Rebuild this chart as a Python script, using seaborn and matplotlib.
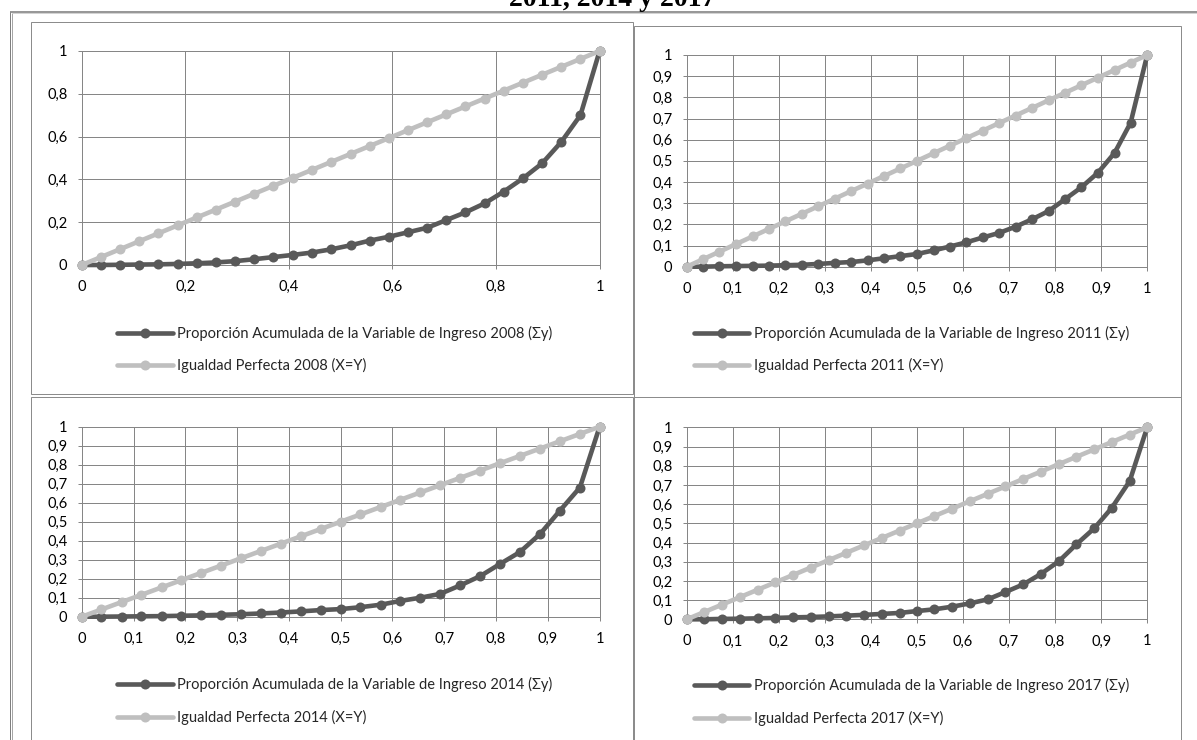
import matplotlib
matplotlib.use("Agg")
import matplotlib.pyplot as plt
from matplotlib.lines import Line2D
from matplotlib.patches import Rectangle
from matplotlib.ticker import FuncFormatter, MultipleLocator
import seaborn as sns

# ---- data: cumulative population share (x) and cumulative income share (y) ----
x_2008 = [0.000, 0.037, 0.074, 0.111, 0.148, 0.185, 0.222, 0.259, 0.296, 0.333,
          0.370, 0.407, 0.444, 0.481, 0.519, 0.556, 0.593, 0.630, 0.667, 0.704,
          0.741, 0.778, 0.815, 0.852, 0.889, 0.926, 0.963, 1.000]
y_2008 = [0.000, 0.000, 0.001, 0.002, 0.003, 0.005, 0.008, 0.012, 0.018, 0.027,
          0.037, 0.047, 0.058, 0.073, 0.092, 0.114, 0.132, 0.153, 0.174, 0.210,
          0.246, 0.288, 0.343, 0.405, 0.475, 0.575, 0.700, 1.000]

x_2011 = [0.000, 0.036, 0.071, 0.107, 0.143, 0.179, 0.214, 0.250, 0.286, 0.321,
          0.357, 0.393, 0.429, 0.464, 0.500, 0.536, 0.571, 0.607, 0.643, 0.679,
          0.714, 0.750, 0.786, 0.821, 0.857, 0.893, 0.929, 0.964, 1.000]
y_2011 = [0.000, 0.000, 0.002, 0.003, 0.004, 0.005, 0.007, 0.009, 0.013, 0.018,
          0.022, 0.030, 0.040, 0.050, 0.060, 0.077, 0.095, 0.115, 0.138, 0.160,
          0.189, 0.224, 0.263, 0.318, 0.375, 0.444, 0.537, 0.680, 1.000]

x_2014 = [0.000, 0.038, 0.077, 0.115, 0.154, 0.192, 0.231, 0.269, 0.308, 0.346,
          0.385, 0.423, 0.462, 0.500, 0.538, 0.577, 0.615, 0.654, 0.692, 0.731,
          0.769, 0.808, 0.846, 0.885, 0.923, 0.962, 1.000]
y_2014 = [0.000, 0.000, 0.001, 0.002, 0.003, 0.005, 0.007, 0.010, 0.013, 0.017,
          0.022, 0.028, 0.035, 0.040, 0.050, 0.063, 0.083, 0.100, 0.120, 0.165,
          0.213, 0.278, 0.340, 0.435, 0.557, 0.680, 1.000]

x_2017 = [0.000, 0.038, 0.077, 0.115, 0.154, 0.192, 0.231, 0.269, 0.308, 0.346,
          0.385, 0.423, 0.462, 0.500, 0.538, 0.577, 0.615, 0.654, 0.692, 0.731,
          0.769, 0.808, 0.846, 0.885, 0.923, 0.962, 1.000]
y_2017 = [0.000, 0.000, 0.002, 0.003, 0.005, 0.007, 0.010, 0.012, 0.015, 0.019,
          0.023, 0.028, 0.033, 0.043, 0.052, 0.066, 0.083, 0.104, 0.142, 0.182,
          0.236, 0.302, 0.390, 0.474, 0.580, 0.720, 1.000]

years = ["2008", "2011", "2014", "2017"]
tick_steps = {"2008": 0.2, "2011": 0.1, "2014": 0.1, "2017": 0.1}
label_curve = "Proporción Acumulada de la Variable de Ingreso {} (Σy)"
label_equal = "Igualdad Perfecta {} (X=Y)"
title_text = "2011, 2014 y 2017"

series = {
    "2008": (x_2008, y_2008),
    "2011": (x_2011, y_2011),
    "2014": (x_2014, y_2014),
    "2017": (x_2017, y_2017),
}

# ---- styling ----
sns.set_theme(style="white")
plt.rcParams["font.family"] = ["Lato", "DejaVu Sans"]

W, H = 1197, 740
DARK = "#595959"
LIGHT = "#bfbfbf"
GRID = "#868686"
FRAME = "#8c8c8c"
PT = 0.72  # points per pixel at dpi 100
LINE_PX = 4.6
MARK_PX = 10.0

fig = plt.figure(figsize=(W / 100, H / 100), dpi=100)


def fx(x):
    return x / W


def fy(y):
    return 1 - y / H


def hline(y, x0, x1, color=FRAME, lw=1.0):
    fig.add_artist(Line2D([fx(x0), fx(x1)], [fy(y), fy(y)], transform=fig.transFigure,
                          color=color, lw=lw * PT, solid_capstyle="butt"))


def vline(x, y0, y1, color=FRAME, lw=1.0):
    fig.add_artist(Line2D([fx(x), fx(x)], [fy(y0), fy(y1)], transform=fig.transFigure,
                          color=color, lw=lw * PT, solid_capstyle="butt"))


def box(x0, y0, x1, y1):
    fig.add_artist(Rectangle((fx(x0), fy(y1)), fx(x1) - fx(x0), fy(y0) - fy(y1),
                             transform=fig.transFigure, fill=False,
                             edgecolor=FRAME, lw=1.0 * PT))


# caption line running off the top of the page area
fig.text(fx(612), fy(5.5), title_text, ha="center", va="baseline",
         family="Liberation Serif", weight="bold", fontsize=20, color="black")

# page frame
hline(11.7, 10, W, color="#7f7f7f", lw=1.6)
vline(10, 11.7, H, color="#7f7f7f", lw=1.0)
vline(12, 13, H, color="#a6a6a6", lw=1.0)
hline(13.3, 12, W, color="#c8c8c8", lw=0.8)

# chart frames
box(30.7, 22.3, 633.3, 394.3)
box(634.0, 25.7, 1181.0, 397.0)
box(30.7, 396.7, 633.3, 760)
box(634.0, 397.0, 1181.0, 760)

# plot areas (left, right, top, bottom) and legend anchors (x, centre y) in pixels
layout = {
    "2008": ((81.8, 599.6, 51.0, 265.0), (117.3, 349.5)),
    "2011": ((686.8, 1147.2, 55.0, 266.7), (694.0, 349.5)),
    "2014": ((81.8, 599.6, 426.7, 616.7), (117.3, 700.8)),
    "2017": ((686.8, 1147.2, 427.3, 619.3), (694.0, 702.2)),
}

comma = FuncFormatter(lambda v, p: ("%g" % round(v, 2)).replace(".", ","))

for yr in years:
    (l, r, t, b), (lx, ly) = layout[yr]
    ax = fig.add_axes([fx(l), fy(b), (r - l) / W, (b - t) / H])
    xs, ys = series[yr]

    sns.lineplot(x=xs, y=ys, ax=ax, color=DARK, linewidth=LINE_PX * PT, marker="o",
                 markersize=MARK_PX * PT, markeredgewidth=0, clip_on=False, zorder=3)
    sns.lineplot(x=xs, y=xs, ax=ax, color=LIGHT, linewidth=LINE_PX * PT, marker="o",
                 markersize=MARK_PX * PT, markeredgewidth=0, clip_on=False, zorder=4)

    step = tick_steps[yr]
    ax.set_xlim(0, 1)
    ax.set_ylim(0, 1)
    ax.xaxis.set_major_locator(MultipleLocator(step))
    ax.yaxis.set_major_locator(MultipleLocator(step))
    ax.xaxis.set_major_formatter(comma)
    ax.yaxis.set_major_formatter(comma)
    ax.set_xlabel("")
    ax.set_ylabel("")
    ax.grid(True, color=GRID, lw=1.0 * PT)
    ax.set_axisbelow(True)
    for sp in ax.spines.values():
        sp.set_color(GRID)
        sp.set_linewidth(1.0 * PT)
    ax.tick_params(axis="both", direction="out", length=4 * PT, width=1.0 * PT,
                   color=GRID, labelsize=10.5, labelcolor="black")
    ax.tick_params(axis="y", pad=7.5, left=True)
    ax.tick_params(axis="x", pad=8, bottom=True)

    lines = ax.get_lines()
    handles = [lines[0], lines[1]]
    ax.legend(handles, [label_curve.format(yr), label_equal.format(yr)],
              loc="center left", bbox_to_anchor=(fx(lx), fy(ly)),
              bbox_transform=fig.transFigure, frameon=False, fontsize=10.5,
              borderpad=0, borderaxespad=0, handlelength=3.8, handletextpad=0.3,
              labelspacing=1.2, numpoints=1)

fig.savefig("out.png", dpi=100)
